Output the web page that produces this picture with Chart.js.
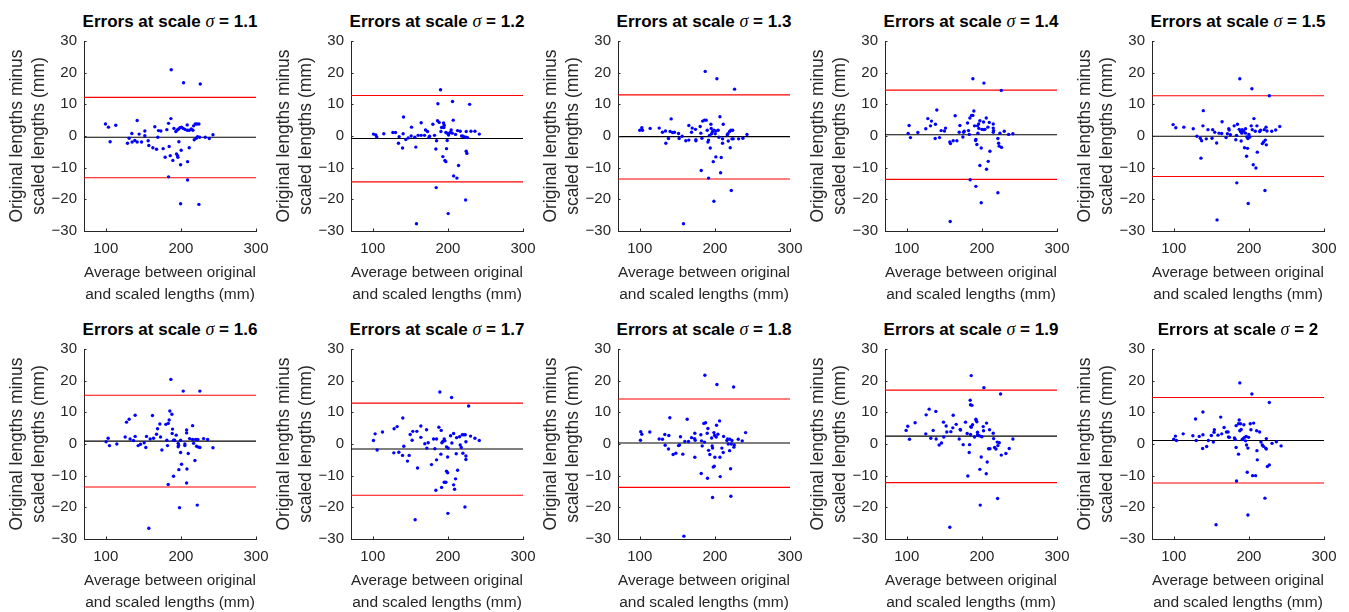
<!DOCTYPE html>
<html>
<head>
<meta charset="utf-8">
<script src="https://cdn.jsdelivr.net/npm/chart.js@4.4.1/dist/chart.umd.min.js"></script>
<style>
  html, body { margin: 0; padding: 0; background: #fff; }
  body { width: 1349px; height: 612px; overflow: hidden; position: relative; font-family: "Liberation Sans", Arial, Helvetica, sans-serif; }
  canvas { position: absolute; }
  .t { position: absolute; width: 300px; text-align: center; white-space: nowrap; font-weight: bold; font-size: 17px; line-height: 17px; color: #000; }
  .t i { font-family: "Liberation Serif", "Times New Roman", serif; font-weight: normal; font-style: italic; font-size: 18px; }
</style>
</head>
<body>
<script>
// ---------- data ----------
const scaleLabels = ['1.1', '1.2', '1.3', '1.4', '1.5', '1.6', '1.7', '1.8', '1.9', '2'];
const xTickValues = [100, 200, 300];
const yTickValues = [-30, -20, -10, 0, 10, 20, 30];
const xRange = [71, 300];
const yRange = [-30, 30];

const meanDiff = [-0.4, -0.8, -0.2, 0.4, -0.1, 0.9, -1.6, 0.3, 2.5, 1.1];
const upperLimit = [12.2, 12.8, 13.0, 14.5, 12.7, 15.4, 12.9, 14.2, 17.0, 14.7];
const lowerLimit = [-13.2, -14.5, -13.6, -13.7, -12.8, -13.6, -16.2, -13.7, -12.2, -12.3];

const pts11 = [[187.1,20.9],[203.6,16.8],[225.8,16.4],[99.6,3.8],[103.6,2.8],[113.3,3.4],[105.8,-1.8],[141.8,4.9],[134.7,0.8],[131.1,-0.7],[128.9,-2.3],[135.1,-1.9],[138.7,-1.4],[141.8,-1.9],[144.4,0.6],[147.6,-1.9],[152,1.6],[152,0.1],[156.4,-1.5],[157.3,-3.0],[162.7,-3.7],[165.3,2.9],[167.6,-4.2],[169.3,-0.4],[170.2,1.7],[173.3,1.6],[176.4,-4.0],[179.1,-6.7],[181.3,2.0],[183.6,4.0],[184.4,-3.3],[186.7,5.5],[185.8,-6.2],[183.6,-12.9],[189.3,-7.7],[190.7,2.4],[193.3,1.4],[194.2,-5.7],[195.1,1.9],[195.6,-6.2],[196,-6.7],[196.9,2.2],[197.3,-1.8],[198.7,2.6],[199.6,-9.1],[200.4,-4.5],[200.9,2.8],[203.1,2.4],[205.3,2.1],[208.4,3.5],[208.4,1.8],[208.9,-8.1],[208.9,-13.9],[211.1,-3.7],[211.1,1.8],[213.8,2.2],[216,1.8],[216.9,3.2],[217.8,-1.2],[219.1,3.8],[220.4,-0.7],[221.3,3.8],[222.2,-0.2],[224,3.8],[224.9,-0.4],[232.4,-0.4],[237.8,-0.8],[242.7,0.4],[199.6,-21.4],[224,-21.6]];

const pts12 = [[190.2,14.6],[186.7,10.2],[206.2,10.9],[228.9,10.0],[140.9,6.0],[207.1,5.0],[100.9,0.6],[104,0.3],[105.3,-0.3],[114.7,0.7],[126.7,1.1],[130.2,1.1],[134.2,-2.3],[135.1,-0.2],[139.6,-3.8],[140.4,0.7],[144,-1.1],[147.1,-0.6],[151.1,0],[151.6,2.8],[156,-0.4],[157.3,-3.5],[160.4,0.2],[164.4,4.2],[164.4,0.2],[168.9,0.2],[170.2,1.9],[172.9,1.4],[174.7,-0.5],[175.6,-0.1],[180,3.7],[182.2,0.2],[184,-4.1],[184.9,-1.5],[184.4,-16.3],[186.2,4.8],[188.4,4.3],[190.7,1.4],[191.6,2.7],[193.3,-6.5],[194.2,4.1],[194.7,2.7],[195.1,3.4],[196,-7.7],[197.3,-8.1],[197.3,1.1],[198.2,-4.0],[199.1,-1.4],[199.6,0.8],[200.9,0.3],[200.4,-24.5],[203.1,1.1],[204.4,1.9],[205.8,0.9],[207.6,-12.6],[210.2,0.5],[212,-13.3],[212.9,1.7],[214.2,-9.3],[216.4,1.5],[218.2,0],[220,-0.1],[221.8,-0.3],[224,-0.4],[224.4,1.4],[224.4,-4.8],[225.3,-5.5],[223.6,-20.2],[226.2,-0.5],[230.7,1.5],[236,1.5],[241.8,0.6],[158.2,-27.7]];

const pts13 = [[187.1,20.4],[202.7,18.1],[226.2,14.8],[206.7,6.1],[141.8,5.4],[100,1.8],[102.7,2.6],[103.6,1.8],[113.8,2.4],[125.8,2.5],[130.2,1.2],[134.2,1.6],[134.7,-2.3],[138.2,-0.8],[140.4,1.4],[143.6,1.1],[146.2,1.2],[151.6,0.8],[152.4,-0.8],[156.4,-0.1],[161.3,-1.5],[165.3,3.3],[165.3,-1.3],[168.9,1.2],[169.8,2.5],[174.2,2.1],[174.7,-1.2],[174.7,-1.5],[180.4,3.0],[181.3,0.9],[182.7,-0.7],[181.8,-10.9],[183.6,4.7],[186.2,5.0],[188.4,5.0],[189.8,1.8],[190.7,-1.9],[191.6,-13.3],[191.6,-1.3],[192.9,0.2],[193.8,-3.8],[194.7,3.7],[195.1,2.4],[195.6,0.7],[196.9,1.4],[197.8,-8.1],[198.7,1.8],[198.7,-20.6],[200.4,0.7],[201.3,-6.6],[201.3,1.6],[204.4,1.8],[205.3,-0.4],[207.6,-11.6],[208.4,-6.8],[210.2,-0.9],[210.2,-2.3],[211.1,3.7],[216.4,0.3],[217.3,0.7],[217.8,-1.6],[219.6,1.4],[220.4,-3.7],[221.3,1.8],[221.8,-17.2],[222.7,-0.9],[223.6,1.8],[224.4,-0.9],[231.6,-0.9],[237.3,-0.7],[242.7,0.5],[158.2,-27.7]];

const pts14 = [[188,18.1],[202.7,16.7],[225.8,14.4],[140,8.2],[101.8,0.8],[103.1,3.3],[104.9,-0.5],[114.7,1.1],[125.3,2.3],[128,5.5],[131.6,3.2],[132.9,4.7],[138.2,3.7],[137.8,-0.8],[143.6,-0.5],[145.8,1.7],[150.2,1.6],[151.6,2.5],[157.3,-1.9],[158.2,-2.4],[161.8,-1.5],[164.4,6.4],[166.7,-1.5],[169.8,1.2],[170.7,3.3],[174.7,-0.3],[175.6,1.2],[176.4,1.5],[180.9,4.1],[182.2,1.7],[183.1,0.5],[184,5.7],[184.4,-13.8],[186.2,6.5],[188,6.5],[189.3,7.9],[190.2,3.2],[191.6,-1.4],[192,-1.1],[192,-15.9],[193.3,-2.7],[194.2,3.2],[194.7,0.9],[195.6,3.8],[196,2.4],[197.3,4.8],[197.3,-9.3],[199.1,-3.8],[199.1,-21.1],[200,2.1],[202.2,4.4],[202.7,2.0],[204,2.1],[205.8,5.7],[206.2,-10.5],[208,2.8],[208.4,-8.0],[209.8,4.3],[210.7,-4.8],[215.1,3.8],[215.1,2.5],[215.6,1.7],[215.1,1.2],[221.3,-0.8],[222.2,-2.3],[223.1,-3.2],[224,0.9],[226.2,-3.6],[221.3,-17.9],[229.8,1.5],[235.6,0.5],[241.3,0.7],[157.8,-27.0]];

const pts15 = [[187.9,18.1],[204,14.9],[227.2,12.7],[139.3,8.0],[206.7,5.5],[99.1,3.6],[102.7,2.6],[113.4,2.8],[125.9,2.3],[130.8,-0.1],[135.3,-0.7],[137.1,-1.5],[136.2,-7.0],[138.8,3.2],[143.3,-0.9],[145.5,2.0],[150.9,-0.7],[151.8,2.0],[154.5,1.2],[157.1,-2.2],[160.3,0.9],[163.8,0.8],[164.3,4.5],[169.6,-0.5],[171.4,0.7],[173.2,2.3],[173.7,1.9],[175.4,0.4],[180.4,3.2],[182.6,-1.2],[183.5,0.2],[183.9,-14.8],[184.8,3.7],[187.1,2.1],[188.8,1.4],[189.7,-1.6],[190.6,0.9],[191.1,2.0],[192.9,1.5],[194.2,-3.7],[195.5,2.3],[195.5,0.9],[196.9,-6.4],[197.3,-0.3],[198.2,-3.9],[198.7,-0.8],[199.1,-21.3],[200.0,0.5],[201.3,-0.3],[203.1,3.2],[204.5,2.0],[205.8,-9.1],[208.5,1.5],[209.4,-10.1],[210.7,3.2],[211.2,-5.1],[214.3,1.4],[215.6,1.8],[217.9,-2.4],[219.6,-1.9],[220.5,2.0],[221.4,-17.2],[221.9,-1.3],[222.8,2.8],[223.2,-2.8],[224.1,1.6],[230.4,1.5],[235.7,1.9],[241.1,3.0],[157.6,-26.5]];

const pts16 = [[186.7,20.4],[203.1,16.7],[225.3,16.7],[185.3,10.4],[188,9.4],[139.1,9.1],[162.2,9.0],[131.1,7.8],[127.6,6.9],[184.4,7.6],[172,6.3],[180,6.2],[183.1,6.5],[215.6,5.8],[168.9,4.8],[188.9,4.7],[207.6,4.4],[207.6,3.5],[167.6,3.1],[193.8,2.8],[188.4,3.3],[100.4,0.7],[103.1,1.8],[104.9,-0.5],[114.7,0],[125.8,2.2],[132.4,1.6],[136.9,1.1],[139.1,2.4],[143.1,-0.5],[146.2,-0.1],[151.1,0.4],[153.3,-1.1],[154.2,2.4],[159.1,1.6],[163.6,1.8],[172.9,2.2],[174.7,-1.9],[181.3,1.2],[182.2,-0.5],[183.1,-12.8],[190.2,1.2],[190.2,-10.2],[191.6,1.2],[196.4,0.2],[196.4,-0.9],[196.9,-0.4],[197.3,-8.1],[198.2,-20.1],[199.6,1.2],[199.6,-2.7],[200.9,-6.4],[205.3,0],[205.3,-0.5],[207.6,-12.3],[208,-7.9],[209.8,-3.0],[211.6,1.7],[215.6,1.4],[216.9,0.2],[218.7,-5.2],[219.6,1.4],[220.9,-0.7],[222.7,1.4],[223.6,-1.0],[225.3,-1.1],[221.8,-19.3],[230.2,1.7],[235.6,1.4],[242.7,-1.2],[157.3,-26.6]];

const pts17 = [[189.3,16.4],[204.9,14.7],[227.6,12.0],[140,8.2],[132.4,5.5],[128.4,4.8],[103.1,3.2],[100.9,1.1],[105.8,-1.9],[112.9,3.8],[128,-2.8],[134.7,-2.6],[139.6,-3.6],[141.3,-0.7],[146.2,-5.4],[148.4,-3.6],[149.8,3.0],[152.4,1.2],[153.3,4.0],[158.7,4.0],[159.6,-7.6],[164,5.7],[164,2.1],[169.3,0.1],[171.6,4.5],[172,-1.3],[173.8,0.4],[178.2,-6.5],[180.9,1.6],[182.7,-1.5],[184,-14.6],[184.9,1.6],[184.9,-5.0],[188,5.3],[190.7,-3.2],[191.1,4.3],[191.6,-13.7],[192,0.4],[193.3,0.8],[195.1,1.6],[195.1,-12.1],[196,1.0],[197.3,-12.1],[198.2,-0.9],[198.2,-8.6],[199.6,-9.1],[199.6,-4.1],[200,-21.9],[200.4,-1.3],[203.6,2.6],[205.3,0.3],[207.6,3.3],[207.6,-12.9],[208.9,-14.3],[210.2,-11.0],[211.1,-3.1],[211.6,2.0],[212.9,-8.3],[215.6,2.3],[216.4,-0.3],[217.8,-1.1],[219.1,2.9],[220,-2.9],[221.3,2.9],[223.1,2.9],[224,0.7],[224,-3.8],[224,-4.9],[222.7,-19.9],[230.2,2.5],[236,1.8],[241.8,1.1],[156.4,-23.9]];

const pts18 = [[186.7,21.7],[202.7,18.8],[224.9,18.0],[140,8.3],[163.1,7.8],[206.2,7.3],[185.3,6.5],[187.6,6.7],[202.2,5.9],[190.7,4.9],[101.3,3.9],[102.7,3.1],[100.9,1.2],[113.3,3.8],[125.8,1.6],[130.2,1.5],[133.3,3.0],[138.7,2.7],[133.8,-0.4],[138.2,-1.6],[144.4,-3.3],[148,-2.9],[151.6,-0.5],[152.9,-0.3],[154.2,2.3],[157.3,-3.2],[160,0.8],[164.9,0.8],[168.9,2.0],[172.9,1.7],[173.3,3.4],[173.8,1.2],[173.3,-4.2],[181.3,2.9],[181.8,-9.3],[182.2,1.0],[183.1,-0.6],[186.2,0.6],[189.8,3.4],[190.2,-10.8],[191.6,-2.0],[193.3,-3.3],[195.6,1.9],[196.4,-0.6],[196.9,-1.3],[196.9,-16.9],[197.8,-7.3],[198.7,3.6],[199.1,-7.0],[199.6,2.7],[200,-4.2],[201.8,2.2],[204,3.1],[206.7,-4.2],[207.1,-10.3],[209.3,-1.3],[211.1,-2.7],[211.6,2.4],[216,1.1],[216.9,1.6],[217.8,0],[219.6,-2.1],[220,1.5],[220.9,-7.8],[221.3,-16.5],[221.8,0],[222.7,1.1],[225.3,-1.0],[225.8,-0.3],[231.1,1.5],[236.4,1.0],[240.9,3.6],[158.7,-29.1]];

const pts19 = [[185.8,21.6],[202.7,17.8],[224.9,15.8],[184.4,13.8],[184.9,12.4],[186.7,12.2],[129.8,11.0],[138.7,10.3],[125.8,9.2],[161.8,9.1],[111.1,6.7],[101.3,5.6],[99.1,4.3],[103.6,1.5],[125.3,3.2],[132,1.8],[135.1,4.3],[139.1,1.6],[143.1,-0.3],[146.2,0.3],[148.9,6.9],[149.3,2.2],[152.4,5.7],[153.3,3.8],[158.7,3.9],[161.3,5.1],[165.8,6.2],[169.8,1.6],[171.1,4.6],[171.6,4.4],[175.1,-0.2],[178.2,6.9],[180.4,3.3],[181.3,-10.1],[183.1,-2.7],[183.6,-0.2],[184.9,3.0],[185.3,5.5],[185.8,5.3],[187.6,6.1],[190.2,2.2],[192,7.8],[192.4,7.4],[193.3,7.0],[194.2,3.7],[194.2,2.9],[195.6,2.7],[197.3,-8.0],[197.8,-19.3],[197.8,2.5],[199.1,-4.1],[200,2.3],[201.8,5.5],[202.2,4.2],[205.8,-9.4],[206.2,6.6],[207.1,-5.7],[208.9,-1.5],[210.2,4.5],[210.7,-1.5],[215.1,3.4],[215.6,1.7],[216.9,-1.1],[218.7,-1.6],[220.4,0.6],[221.3,-0.5],[220.9,-17.2],[223.1,0.4],[225.8,-3.5],[232,-3.0],[236.4,-1.4],[241.3,1.6],[157.3,-26.3]];

const pts20 = [[187.9,19.3],[204,15.8],[227.2,13.1],[138.8,10.1],[129,7.9],[162.5,8.5],[187.1,7.6],[183,5.8],[186.2,6.4],[188.8,6.4],[193.3,6.1],[201.8,6.4],[206.3,6.6],[167,5.2],[170.1,3.8],[172.3,3.8],[163.8,3.2],[158.9,2.8],[154,4.5],[153.6,3.7],[150,2.7],[152.7,0.6],[146,1.1],[143.8,-0.8],[138.4,-1.4],[138.8,2.9],[133.9,2.4],[129.9,1.1],[125.4,2.6],[112.5,3.2],[102.2,2.5],[100,1.5],[103.6,1.1],[172.8,2.2],[174.1,2.1],[180.8,1.9],[181.7,1.4],[183,-1.1],[183.5,-11.7],[186.2,-3.2],[187.9,4.2],[189.7,4.6],[191.1,1.4],[192.4,1.7],[194.2,2.1],[195.5,1.0],[196.4,2.4],[196.9,-0.3],[197.8,-8.9],[198.7,-1.3],[198.7,-22.4],[199.6,2.1],[202.7,4.5],[204.9,-10.0],[208.9,-10.0],[210.3,4.2],[210.7,-2.1],[211.2,-5.0],[214.3,3.8],[216.1,0.6],[217.9,-0.3],[219.2,-0.7],[222.3,-1.3],[223.2,-1.6],[223.2,1.7],[224.6,-7.1],[227.2,-6.6],[221.4,-17.1],[230.8,0.2],[236.6,0.7],[242.9,-0.6],[156.3,-25.5]];

const panelPoints = [pts11, pts12, pts13, pts14, pts15, pts16, pts17, pts18, pts19, pts20];

// ---------- layout (page pixels of each plot area) ----------
const colLeft = [84, 351, 618, 885, 1152];
const rowTop = [41, 349];
const plotW = 172, plotH = 190;
const yAxisW = 84, xAxisH = 76, padTop = 41, padRight = 26;
const FONT = "'Liberation Sans', Arial, Helvetica, sans-serif";
const AXIS_COLOR = '#262626';

const innerTicks = {
  id: 'innerTicks',
  afterDraw(chart) {
    const ctx = chart.ctx, xs = chart.scales.x, ys = chart.scales.y;
    ctx.save();
    ctx.strokeStyle = AXIS_COLOR;
    ctx.lineWidth = 1;
    ctx.beginPath();
    xTickValues.forEach(v => {
      const px = Math.round(xs.getPixelForValue(v)) + 0.5;
      ctx.moveTo(px, ys.bottom);
      ctx.lineTo(px, ys.bottom - 2.5);
    });
    yTickValues.forEach(v => {
      const py = Math.round(ys.getPixelForValue(v)) + 0.5;
      ctx.moveTo(xs.left, py);
      ctx.lineTo(xs.left + 2.5, py);
    });
    ctx.stroke();
    ctx.restore();
  }
};

const minusFmt = v => String(v).replace('-', '\u2212');

panelPoints.forEach((pts, i) => {
  const r = Math.floor(i / 5), c = i % 5;
  const L = colLeft[c], T = rowTop[r];

  // title (real text)
  const t = document.createElement('div');
  t.className = 't';
  t.style.left = (L + plotW / 2 - 150) + 'px';
  t.style.top = (T - 28.5) + 'px';
  t.innerHTML = 'Errors at scale <i>\u03c3</i> = ' + scaleLabels[i];
  document.body.appendChild(t);

  const cv = document.createElement('canvas');
  const W = yAxisW + plotW + padRight, H = padTop + plotH + xAxisH;
  cv.width = W; cv.height = H;
  cv.style.width = W + 'px'; cv.style.height = H + 'px';
  cv.style.left = (L - yAxisW) + 'px';
  cv.style.top = (T - padTop) + 'px';
  document.body.appendChild(cv);

  const hline = (v, color) => ({
    type: 'line',
    data: [{x: xRange[0], y: v}, {x: xRange[1], y: v}],
    borderColor: color, borderWidth: 1.1, pointRadius: 0, fill: false, order: 2
  });

  new Chart(cv, {
    type: 'scatter',
    data: {
      datasets: [
        { data: pts.map(p => ({x: p[0], y: p[1]})), backgroundColor: '#0000ff', borderColor: '#0000ff', borderWidth: 0, pointRadius: 1.7, order: 1 },
        hline(upperLimit[i], '#ff0000'),
        hline(lowerLimit[i], '#ff0000'),
        hline(meanDiff[i], '#000000')
      ]
    },
    options: {
      responsive: false,
      animation: false,
      devicePixelRatio: 1,
      layout: { padding: { top: padTop, right: padRight, left: 0, bottom: 0 } },
      plugins: { legend: { display: false }, tooltip: { enabled: false }, title: { display: false } },
      scales: {
        x: {
          type: 'linear', min: xRange[0], max: xRange[1],
          afterBuildTicks: s => { s.ticks = xTickValues.map(v => ({value: v})); },
          afterFit: s => { s.height = xAxisH; },
          grid: { display: false, drawTicks: false, tickLength: 0 },
          border: { display: true, color: AXIS_COLOR, width: 1 },
          ticks: { color: AXIS_COLOR, font: { family: FONT, size: 15 }, padding: 9, maxRotation: 0, autoSkip: false },
          title: { display: true, text: ['Average between original', 'and scaled lengths (mm)'], color: AXIS_COLOR,
                   font: { family: FONT, size: 15.5, lineHeight: 22 / 15.5 }, padding: { top: 0, bottom: 1.3 } }
        },
        y: {
          type: 'linear', min: yRange[0], max: yRange[1],
          afterBuildTicks: s => { s.ticks = yTickValues.map(v => ({value: v})); },
          afterFit: s => { s.width = yAxisW; },
          grid: { display: false, drawTicks: false, tickLength: 0 },
          border: { display: true, color: AXIS_COLOR, width: 1 },
          ticks: { color: AXIS_COLOR, font: { family: FONT, size: 15 }, padding: 7, callback: minusFmt, autoSkip: false },
          title: { display: true, text: ['Original lengths minus', 'scaled lengths (mm)'], color: AXIS_COLOR,
                   font: { family: FONT, size: 17.5, lineHeight: 22 / 17.5 }, padding: { top: 6, bottom: 0 } }
        }
      }
    },
    plugins: [innerTicks]
  });
});
</script>
</body>
</html>
